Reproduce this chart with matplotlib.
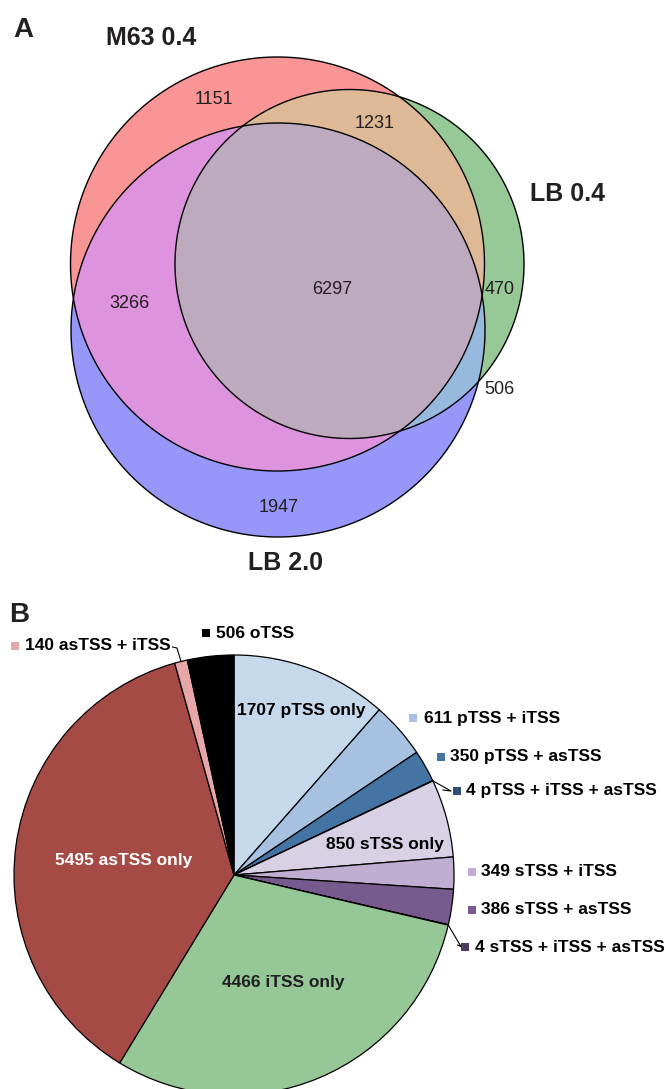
import numpy as np
import matplotlib
matplotlib.use("Agg")
import matplotlib.pyplot as plt
from matplotlib.patches import Polygon

plt.rcParams['font.family'] = ['Liberation Sans', 'DejaVu Sans']

W, H = 666, 1089

# ---------------- Panel A data (Venn) ----------------
set_names = ['M63 0.4', 'LB 0.4', 'LB 2.0']
# regions: M63 only, M63&LB0.4, all three, M63&LB2.0, LB0.4 only, LB0.4&LB2.0, LB2.0 only
region_names = ['M63 only', 'M63+LB0.4', 'all', 'M63+LB2.0', 'LB0.4 only', 'LB0.4+LB2.0', 'LB2.0 only']
region_counts = [1151, 1231, 6297, 3266, 470, 506, 1947]

# ---------------- Panel B data (pie) ----------------
pie_labels = ['1707 pTSS only', '611 pTSS + iTSS', '350 pTSS + asTSS', '4 pTSS + iTSS + asTSS',
              '850 sTSS only', '349 sTSS + iTSS', '386 sTSS + asTSS', '4 sTSS + iTSS + asTSS',
              '4466 iTSS only', '5495 asTSS only', '140 asTSS + iTSS', '506 oTSS']
pie_values = [1707, 611, 350, 4, 850, 349, 386, 4, 4466, 5495, 140, 506]
pie_colors = ['#C5D8EC', '#A7C2E0', '#4374A4', '#2E4F73',
              '#D8D0E4', '#BFAED2', '#775B8E', '#4E3B62',
              '#96C796', '#A54A45', '#E5A7A7', '#000000']

# ---------------- layout ----------------
fig = plt.figure(figsize=(W / 100, H / 100), dpi=100)
ax_a = fig.add_axes([0, 0, 1, 1])
ax_a.set_xlim(0, W)
ax_a.set_ylim(H, 0)
ax_a.axis('off')

# circles (layout geometry in pixels)
circ = {
    'M63 0.4': ((277.5, 264.0), 207.0),
    'LB 0.4': ((349.5, 264.0), 174.5),
    'LB 2.0': ((278.0, 330.0), 207.0),
}


def circle_poly(c, r, n=360):
    t = np.linspace(0, 2 * np.pi, n, endpoint=False)
    return [(c[0] + r * np.cos(a), c[1] + r * np.sin(a)) for a in t]


def clip_poly(subject, clip):
    output = list(subject)
    n = len(clip)
    for i in range(n):
        a = clip[i]
        b = clip[(i + 1) % n]
        inp = output
        output = []
        if not inp:
            break

        def inside(p):
            return (b[0] - a[0]) * (p[1] - a[1]) - (b[1] - a[1]) * (p[0] - a[0]) >= 0

        def inter(p, q):
            x1, y1 = p; x2, y2 = q; x3, y3 = a; x4, y4 = b
            den = (x1 - x2) * (y3 - y4) - (y1 - y2) * (x3 - x4)
            if den == 0:
                return q
            tt = ((x1 - x3) * (y3 - y4) - (y1 - y3) * (x3 - x4)) / den
            return (x1 + tt * (x2 - x1), y1 + tt * (y2 - y1))

        s = inp[-1]
        for e in inp:
            if inside(e):
                if not inside(s):
                    output.append(inter(s, e))
                output.append(e)
            elif inside(s):
                output.append(inter(s, e))
            s = e
    return output


P = {k: circle_poly(*v) for k, v in circ.items()}
R, G, B = P['M63 0.4'], P['LB 0.4'], P['LB 2.0']
RG = clip_poly(R, G)
RB = clip_poly(R, B)
GB = clip_poly(G, B)
RGB = clip_poly(RG, B)

fills = [(R, '#F99595'), (G, '#97C996'), (B, '#9797F9'),
         (RG, '#DDB995'), (RB, '#DD93DD'), (GB, '#97B9DE'), (RGB, '#BEAABF')]
for poly, col in fills:
    ax_a.add_patch(Polygon(poly, closed=True, facecolor=col, edgecolor='none', zorder=1))
for poly in (R, G, B):
    ax_a.add_patch(Polygon(poly, closed=True, facecolor='none', edgecolor='black', lw=1.0, zorder=2))

region_pos = [(213.5, 99), (374.5, 124), (332, 290), (129, 303), (500, 290), (499, 389), (279, 507)]
for cnt, (x, y) in zip(region_counts, region_pos):
    ax_a.text(x, y, str(cnt), ha='center', va='center', fontsize=13, color='#231F20', zorder=3)

title_pos = [(151.5, 38), (568, 194), (286, 563)]
for name, (x, y) in zip(set_names, title_pos):
    ax_a.text(x, y, name, ha='center', va='center', fontsize=18, fontweight='bold', color='#231F20')

ax_a.text(23, 30, 'A', ha='center', va='center', fontsize=20, fontweight='bold', color='#231F20')
ax_a.text(19, 615, 'B', ha='center', va='center', fontsize=20, fontweight='bold', color='#231F20')

# ---------------- Panel B: pie ----------------
ax_b = fig.add_axes([0, 0, 1, 1], facecolor='none')
cx, cy, rad = 234.0, H - 875.0, 220.0
wedges, _ = ax_b.pie(pie_values, colors=pie_colors, startangle=90, counterclock=False,
                     center=(cx, cy), radius=rad,
                     wedgeprops=dict(edgecolor='black', linewidth=0.9))
ax_b.set_xlim(0, W)
ax_b.set_ylim(0, H)
ax_b.set_aspect('auto')
ax_b.axis('off')

inside_pos = {0: (301, 711, 'black'), 4: (385, 845, 'black'),
              8: (283, 982, '#1F1F1F'), 9: (124, 861, 'white')}
for i, (x, y, col) in inside_pos.items():
    ax_b.text(x, H - y, pie_labels[i], ha='center', va='center', fontsize=12.5,
              fontweight='bold', color=col)

# outside labels: index -> (marker x, text x, y)
outside_pos = {11: (206, 216, 633), 10: (15, 25, 646), 1: (413, 423.5, 718),
               2: (440.5, 450, 757), 3: (456.7, 466, 791), 5: (471.6, 481, 872),
               6: (471.6, 481, 910), 7: (465, 475, 947)}
for i, (mx, tx, y) in outside_pos.items():
    ax_b.plot([mx], [H - y], marker='s', markersize=5.3, color=pie_colors[i],
              markeredgewidth=0, linestyle='none')
    ax_b.text(tx, H - y, pie_labels[i], ha='left', va='center', fontsize=12.5,
              fontweight='bold', color='black')


def edge_point(w):
    ang = np.deg2rad((w.theta1 + w.theta2) / 2)
    return cx + rad * np.cos(ang), cy + rad * np.sin(ang)


# leader lines (elbow points are layout)
leaders = {10: [(172.5, 647), (177, 648)], 3: [(443, 790), (451, 791)],
           7: [(457.5, 945), (461, 946.6)]}
for i, pts in leaders.items():
    ex, ey = edge_point(wedges[i])
    xs = [ex] + [p[0] for p in pts[::-1]] if False else [ex] + [p[0] for p in reversed(pts)]
    ys = [ey] + [H - p[1] for p in reversed(pts)]
    ax_b.plot(xs, ys, color='black', lw=0.8)

fig.savefig('out.png', dpi=100)
